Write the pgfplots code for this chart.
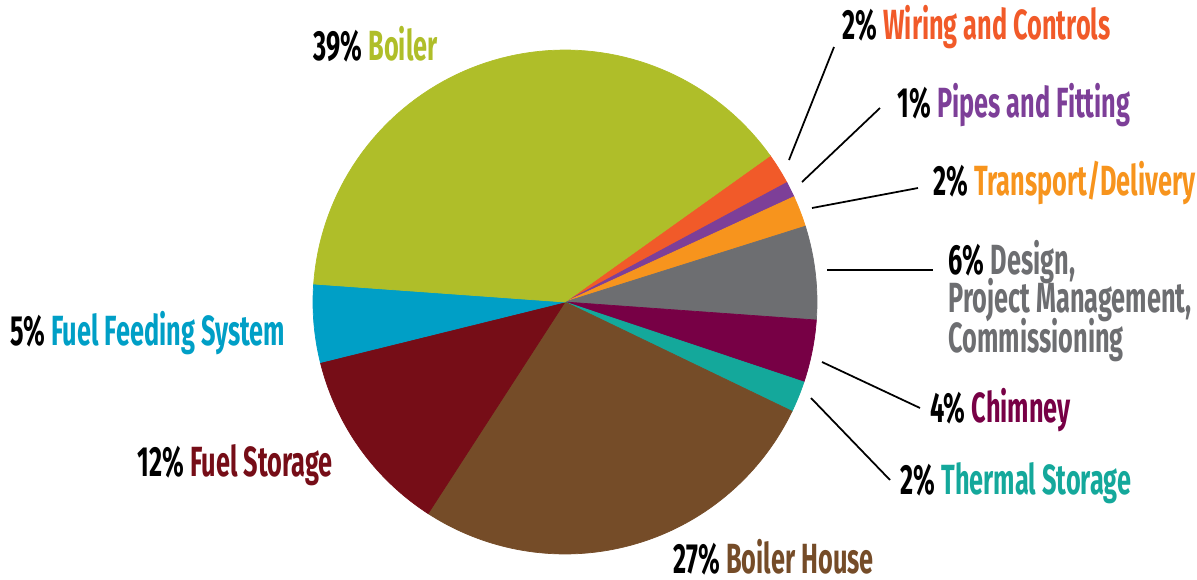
\documentclass[border=0pt]{standalone}
\usepackage{pgfplots}
\pgfplotsset{compat=1.18}
\usepackage{fontspec}
\setmainfont{Fira Sans}[FakeStretch=0.6]
\definecolor{cWiring}{HTML}{F15A29}
\definecolor{cPipes}{HTML}{7D3F98}
\definecolor{cTransport}{HTML}{F7941D}
\definecolor{cDesign}{HTML}{6D6E71}
\definecolor{cChimney}{HTML}{770045}
\definecolor{cThermal}{HTML}{14A89B}
\definecolor{cHouse}{HTML}{754C28}
\definecolor{cFStore}{HTML}{760D17}
\definecolor{cFFeed}{HTML}{009FC6}
\definecolor{cBoiler}{HTML}{AFBE29}
\begin{document}
\begin{tikzpicture}
\begin{axis}[scale only axis, width=11.97cm, height=5.80cm,
  xmin=0, xmax=1197, ymin=-580, ymax=0, hide axis, clip=false]
\def\cx{565}\def\cy{-302}\def\R{252}
\xdef\startangle{35.5}
\foreach \p/\c in {2/cWiring,1/cPipes,2/cTransport,6/cDesign,4/cChimney,2/cThermal,27/cHouse,12/cFStore,5/cFFeed,39/cBoiler}{
  \pgfmathsetmacro\a{\startangle}
  \pgfmathsetmacro\b{\startangle-3.6*\p}
  \edef\temp{\noexpand\addplot[fill=\c, draw=\c, line width=0.2pt, domain=\b:\a, samples=80] ({\cx+\R*cos(x)},{\cy+\R*sin(x)}) -- (axis cs:\cx,\cy) -- cycle;}
  \temp
  \xdef\startangle{\b}
}
% leader lines
\draw[black, line width=0.5pt] (axis cs:789,-160) -- (axis cs:834,-47);
\draw[black, line width=0.5pt] (axis cs:802,-182) -- (axis cs:880,-108);
\draw[black, line width=0.5pt] (axis cs:812,-208) -- (axis cs:918,-188);
\draw[black, line width=0.5pt] (axis cs:827,-270) -- (axis cs:933,-270);
\draw[black, line width=0.5pt] (axis cs:822,-362) -- (axis cs:920,-408);
\draw[black, line width=0.5pt] (axis cs:811,-398) -- (axis cs:890,-480);
% labels
\tikzset{lab/.style={anchor=base west, inner sep=0pt, font=\fontsize{12pt}{14pt}\selectfont\bfseries}}
\node[lab] at (axis cs:313,-60) {39\% \textcolor{cBoiler}{Boiler}};
\node[lab] at (axis cs:842,-39) {2\% \textcolor{cWiring}{Wiring and Controls}};
\node[lab] at (axis cs:897,-117) {1\% \textcolor{cPipes}{Pipes and Fitting}};
\node[lab] at (axis cs:933,-195) {2\% \textcolor{cTransport}{Transport/Delivery}};
\node[lab] at (axis cs:948,-274) {6\% \textcolor{cDesign}{Design,}};
\node[lab] at (axis cs:948,-312) {\textcolor{cDesign}{Project Management,}};
\node[lab] at (axis cs:948,-352) {\textcolor{cDesign}{Commissioning}};
\node[lab] at (axis cs:930,-423) {4\% \textcolor{cChimney}{Chimney}};
\node[lab] at (axis cs:900,-495) {2\% \textcolor{cThermal}{Thermal Storage}};
\node[lab] at (axis cs:10,-345) {5\% \textcolor{cFFeed}{Fuel Feeding System}};
\node[lab] at (axis cs:137,-477) {12\% \textcolor{cFStore}{Fuel Storage}};
\node[lab] at (axis cs:673,-574) {27\% \textcolor{cHouse}{Boiler House}};
\end{axis}
\pgfresetboundingbox
\useasboundingbox (0,0) rectangle (11.97cm,5.80cm);
\end{tikzpicture}
\end{document}
